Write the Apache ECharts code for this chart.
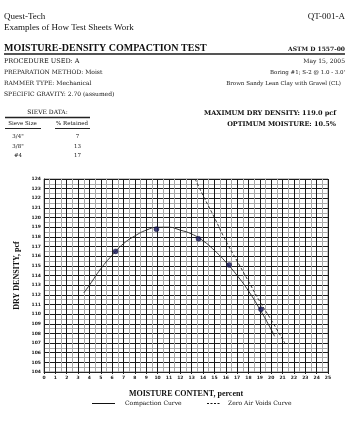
<!DOCTYPE html>
<html>
<head>
<meta charset="utf-8">
<script src="https://cdn.jsdelivr.net/npm/echarts@6/dist/echarts.min.js"></script>
<style>
  html, body { margin: 0; padding: 0; background: #fff; }
  #main { width: 352px; height: 428px; }
</style>
</head>
<body>
<div id="main"></div>
<script>
// test points (moisture %, dry density pcf)
const testMoisture = [6.3, 9.9, 13.6, 16.3, 19.1]
const testDensity = [116.5, 118.8, 117.8, 115.1, 110.5]

// compaction curve
const curveMoisture = [3.5, 4, 5, 6, 7, 8, 9, 10, 10.5, 11, 12, 13, 14, 15, 16, 17, 18, 19, 20, 20.3]
const curveDensity = [112.2, 113.0, 114.7, 116.1, 117.3, 118.1, 118.7, 119.0, 119.0, 119.0, 118.7, 118.3, 117.6, 116.6, 115.4, 114.0, 112.4, 110.5, 108.4, 107.7]

// zero air voids curve
const zavMoisture = [13.3, 14, 15, 16, 17, 18, 19, 20, 21.2]
const zavDensity = [124.0, 122.3, 120.0, 117.6, 115.5, 113.4, 111.3, 109.4, 107.0]

// axes
const xMin = 0, xMax = 25
const yMin = 104, yMax = 124

// sieve table
const sieveSizes = ['3/4"', '3/8"', '#4']
const sieveRetained = [7, 13, 17]

const serif = '"Liberation Serif", serif'
const slab = '"DejaVu Serif", serif'

function txt (text, x, y, font, align) {
  return {
    type: 'text', x: x, y: y, silent: true,
    style: { text: text, font: font, fill: '#111', align: align || 'left', verticalAlign: 'middle' }
  }
}
function hline (x1, x2, y, w, color) {
  return {
    type: 'line', silent: true,
    shape: { x1: x1, y1: y, x2: x2, y2: y },
    style: { stroke: color || '#222', lineWidth: w || 1 }
  }
}

const graphics = [
  txt('Quest-Tech', 4, 16.5, '9px ' + serif),
  txt('Examples of How Test Sheets Work', 4, 28, '9px ' + serif),
  txt('QT-001-A', 345, 16.5, '9px ' + serif, 'right'),
  txt('MOISTURE-DENSITY COMPACTION TEST', 4, 48.5, 'bold 10px ' + serif),
  txt('ASTM D 1557-00', 345, 49, 'bold 6px ' + slab, 'right'),
  hline(4, 345, 54, 2, '#555'),
  txt('PROCEDURE USED: A', 4, 61.5, '6.5px ' + slab),
  txt('PREPARATION METHOD: Moist', 4, 72.5, '6px ' + slab),
  txt('RAMMER TYPE: Mechanical', 4, 83.5, '6px ' + slab),
  txt('SPECIFIC GRAVITY: 2.70 (assumed)', 4, 94.5, '6px ' + slab),
  txt('May 15, 2005', 345, 61.5, '6px ' + slab, 'right'),
  txt("Boring #1; S-2 @ 1.0 - 3.0'", 345, 72.5, '5.5px ' + slab, 'right'),
  txt('Brown Sandy Lean Clay with Gravel (CL)', 341, 83.5, '5.5px ' + slab, 'right'),
  txt('MAXIMUM DRY DENSITY: 119.0 pcf', 336, 113.5, 'bold 6.5px ' + slab, 'right'),
  txt('OPTIMUM MOISTURE: 10.5%', 336, 124, 'bold 6.5px ' + slab, 'right'),
  txt('SIEVE DATA:', 47.5, 112.5, '6px ' + slab, 'center'),
  hline(5, 90, 117.5, 1.5),
  txt('Sieve Size', 22.5, 123.5, '5.5px ' + slab, 'center'),
  txt('% Retained', 72, 123.5, '5.5px ' + slab, 'center'),
  hline(5, 41, 128.5, 1),
  hline(55, 90, 128.5, 1),
  // legend
  hline(92, 115, 403.5, 1, '#111'),
  txt('Compaction Curve', 125, 403.5, '6px ' + slab),
  {
    type: 'line', silent: true,
    shape: { x1: 207, y1: 403.5, x2: 220, y2: 403.5 },
    style: { stroke: '#111', lineWidth: 1, lineDash: [2, 1.5] }
  },
  txt('Zero Air Voids Curve', 228, 403.5, '6px ' + slab)
]
sieveSizes.forEach(function (s, i) {
  const y = 137 + i * 9.5
  graphics.push(txt(s, 18, y, '5.5px ' + slab, 'center'))
  graphics.push(txt(String(sieveRetained[i]), 77.5, y, '5.5px ' + slab, 'center'))
})

const majorLine = { show: true, lineStyle: { color: '#1a1a1a', width: 1 } }
const minorLine = { show: true, lineStyle: { color: '#a8a8a8', width: 1 } }
const tickLabel = { fontSize: 4.5, fontWeight: 'bold', fontFamily: 'DejaVu Sans', color: '#222' }

let myChart = echarts.init(document.getElementById('main'), null, { renderer: 'canvas' })

myChart.setOption({
  animation: false,
  backgroundColor: '#fff',
  grid: { left: 44, top: 179, width: 284, height: 193, show: true, borderColor: '#888', borderWidth: 1 },
  xAxis: {
    type: 'value', min: xMin, max: xMax, interval: 1,
    name: 'MOISTURE CONTENT, percent', nameLocation: 'middle', nameGap: 18,
    nameTextStyle: { fontFamily: 'Liberation Serif', fontWeight: 'bold', fontSize: 8, color: '#111' },
    axisLine: { show: true, onZero: false, lineStyle: { color: '#222', width: 1 } },
    axisTick: { show: true, length: 2, lineStyle: { color: '#222' } },
    axisLabel: Object.assign({ margin: 3 }, tickLabel),
    splitLine: majorLine,
    minorTick: { show: false, splitNumber: 2 },
    minorSplitLine: minorLine
  },
  yAxis: {
    type: 'value', min: yMin, max: yMax, interval: 1,
    name: 'DRY DENSITY, pcf', nameLocation: 'middle', nameGap: 22, nameRotate: 90,
    nameTextStyle: { fontFamily: 'Liberation Serif', fontWeight: 'bold', fontSize: 8, color: '#111' },
    axisLine: { show: true, onZero: false, lineStyle: { color: '#222', width: 1 } },
    axisTick: { show: false },
    axisLabel: Object.assign({ margin: 3 }, tickLabel),
    splitLine: majorLine,
    minorTick: { show: false, splitNumber: 2 },
    minorSplitLine: minorLine
  },
  series: [
    {
      name: 'Compaction Curve', type: 'line', smooth: true, showSymbol: false,
      data: curveMoisture.map((m, i) => [m, curveDensity[i]]),
      lineStyle: { color: '#222', width: 0.9 }, z: 3
    },
    {
      name: 'Zero Air Voids Curve', type: 'line', smooth: true, showSymbol: false,
      data: zavMoisture.map((m, i) => [m, zavDensity[i]]),
      lineStyle: { color: '#222', width: 0.9, type: [3, 2] }, z: 3
    },
    {
      name: 'Test Points', type: 'scatter', symbolSize: 5,
      data: testMoisture.map((m, i) => [m, testDensity[i]]),
      itemStyle: { color: '#14145a', borderColor: '#0a0a30', borderWidth: 0.5 }, z: 4
    }
  ],
  graphic: graphics
})
</script>
</body>
</html>
